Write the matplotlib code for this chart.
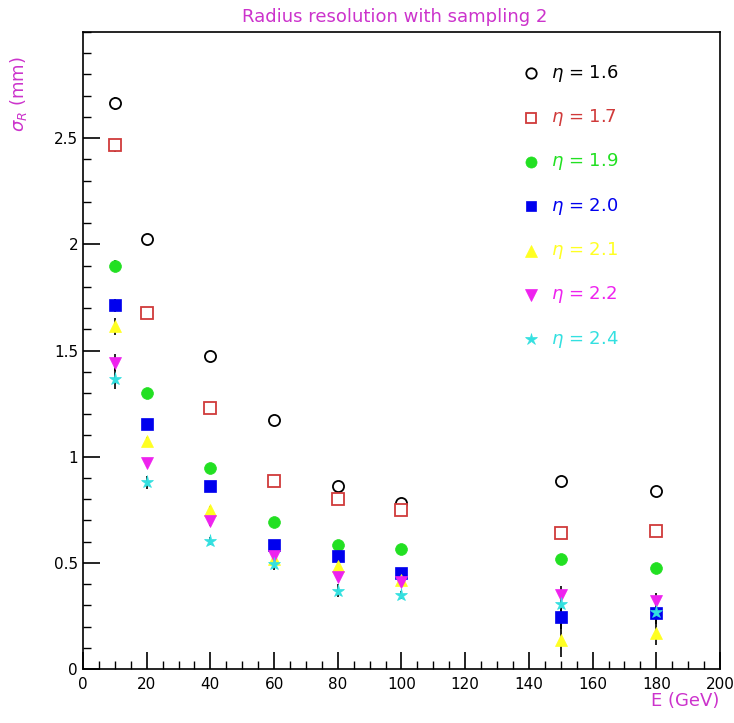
import matplotlib
matplotlib.use("Agg")
import matplotlib.pyplot as plt
from matplotlib.ticker import MultipleLocator

energies = [10, 20, 40, 60, 80, 100, 150, 180]

eta_labels = ["1.6", "1.7", "1.9", "2.0", "2.1", "2.2", "2.4"]

sigma_16 = [2.665, 2.024, 1.476, 1.171, 0.863, 0.780, 0.884, 0.836]
sigma_17 = [2.467, 1.675, 1.231, 0.886, 0.802, 0.747, 0.640, 0.652]
sigma_19 = [1.898, 1.300, 0.948, 0.692, 0.585, 0.564, 0.517, 0.478]
sigma_20 = [1.712, 1.156, 0.863, 0.584, 0.533, 0.454, 0.247, 0.264]
sigma_21 = [1.615, 1.072, 0.750, 0.520, 0.483, 0.420, 0.137, 0.171]
sigma_22 = [1.443, 0.972, 0.695, 0.532, 0.435, 0.412, 0.349, 0.318]
sigma_24 = [1.368, 0.879, 0.604, 0.495, 0.368, 0.349, 0.307, 0.267]

err_16 = [0.03, 0.01, 0.01, 0.01, 0.01, 0.01, 0.01, 0.01]
err_17 = [0.03, 0.01, 0.01, 0.01, 0.01, 0.01, 0.01, 0.01]
err_19 = [0.03, 0.01, 0.01, 0.01, 0.01, 0.01, 0.01, 0.01]
err_20 = [0.03, 0.02, 0.01, 0.01, 0.01, 0.01, 0.06, 0.05]
err_21 = [0.04, 0.02, 0.02, 0.02, 0.02, 0.02, 0.08, 0.06]
err_22 = [0.04, 0.02, 0.02, 0.02, 0.02, 0.02, 0.04, 0.04]
err_24 = [0.05, 0.03, 0.02, 0.03, 0.03, 0.02, 0.05, 0.04]

series = [sigma_16, sigma_17, sigma_19, sigma_20, sigma_21, sigma_22, sigma_24]
errors = [err_16, err_17, err_19, err_20, err_21, err_22, err_24]
colors = ["#000000", "#d03a3a", "#22e022", "#0000ee", "#ffff22", "#ee22ee", "#33e0e0"]
markers = ["o", "s", "o", "s", "^", "v", "*"]
filled = [False, False, True, True, True, True, True]
msizes = [8, 8, 8.5, 8, 9, 9, 9.5]

fig = plt.figure(figsize=(7.34, 7.23), dpi=100)
ax = fig.add_axes([0.113, 0.0747, 0.868, 0.881])

for y, e, c, m, f, ms in zip(series, errors, colors, markers, filled, msizes):
    ax.errorbar(energies, y, yerr=e, fmt="none", ecolor="black", elinewidth=1.2,
                capsize=0, zorder=2)
    ax.plot(energies, y, linestyle="none", marker=m, markersize=ms,
            markerfacecolor=(c if f else "white"), markeredgecolor=c,
            markeredgewidth=1.3 if not f else 0.5, zorder=3)

ax.set_xlim(0, 200)
ax.set_ylim(0, 3.0)
ax.xaxis.set_major_locator(MultipleLocator(20))
ax.xaxis.set_minor_locator(MultipleLocator(5))
ax.set_yticks([0, 0.5, 1, 1.5, 2, 2.5])
ax.set_yticklabels(["0", "0.5", "1", "1.5", "2", "2.5"])
ax.yaxis.set_minor_locator(MultipleLocator(0.1))
ax.tick_params(axis="both", which="major", direction="in", length=12, width=1.2,
               labelsize=11, top=False, right=False)
ax.tick_params(axis="both", which="minor", direction="in", length=6, width=1.0,
               top=False, right=False)
ax.tick_params(axis="x", pad=6)
for sp in ax.spines.values():
    sp.set_linewidth(1.2)

# legend drawn manually as colored text
for i, (lab, c, m, f, ms) in enumerate(zip(eta_labels, colors, markers, filled, msizes)):
    ypos = 0.935 - i * 0.0695
    ax.plot([0.703], [ypos], transform=ax.transAxes, linestyle="none", marker=m,
            markersize=ms - 0.5, markerfacecolor=(c if f else "white"), markeredgecolor=c,
            markeredgewidth=1.3 if not f else 0.5, clip_on=False)
    ax.text(0.735, ypos, r"$\eta$ = " + lab, transform=ax.transAxes, color=c,
            fontsize=13, va="center", ha="left")

fig.text(0.538, 0.977, "Radius resolution with sampling 2", color="#cc33cc",
         fontsize=13, ha="center", va="center")
fig.text(0.025, 0.87, r"$\sigma_R$ (mm)", color="#cc33cc", fontsize=13,
         rotation=90, ha="center", va="center")
fig.text(0.98, 0.03, "E (GeV)", color="#cc33cc", fontsize=13, ha="right", va="center")

fig.savefig("out.png", dpi=100)
